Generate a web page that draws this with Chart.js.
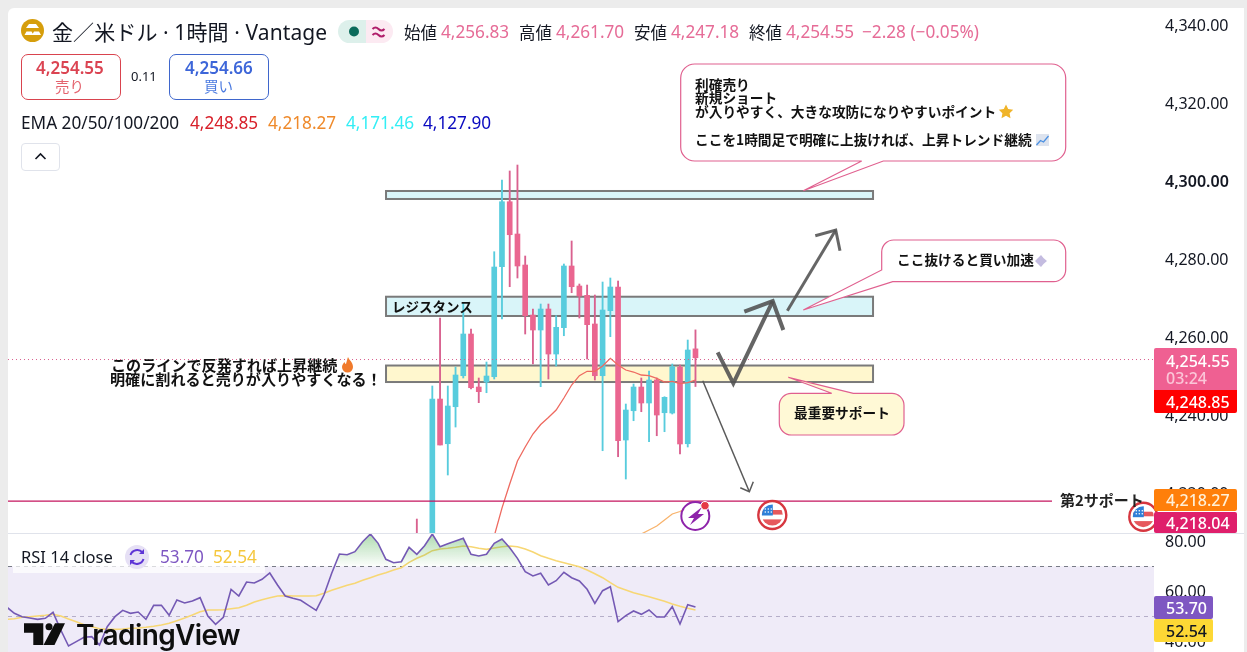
<!DOCTYPE html>
<html lang="ja">
<head>
<meta charset="utf-8">
<title>金／米ドル 1時間</title>
<script src="https://cdn.jsdelivr.net/npm/chart.js@4"></script>
<style>
html,body{margin:0;padding:0;background:#ECECEC;overflow:hidden}
#stage{position:relative;width:1247px;height:652px;overflow:hidden;font-family:"Noto Sans","Noto Sans CJK JP",sans-serif;color:#131722}
#panel{position:absolute;left:8px;top:8px;width:1236px;height:644px;background:#fff;border-top-left-radius:6px}
canvas{position:absolute;left:0}
#priceCanvas{top:0}
#rsiCanvas{top:534px}
#divider{position:absolute;left:8px;top:533px;width:1236px;height:1px;background:#E0E3EB}
.t{position:absolute;white-space:nowrap;transform:translateY(-50%);line-height:1}
.j{font-family:"Noto Sans CJK JP",sans-serif}
.b{font-family:"Noto Sans CJK JP",sans-serif;font-weight:700;font-size:13.7px;color:#111}
.p{color:#E66C97}
.box{position:absolute;box-sizing:border-box;border-radius:7px;background:#fff;width:100px;height:46px;top:54px;text-align:center}
.tag{position:absolute;left:1154px;width:83px;box-sizing:border-box;padding-left:12px;color:#fff;border-radius:2px;font-size:16px}
.tag span{position:absolute;left:12px;top:50%;transform:translateY(-50%);line-height:1}
svg{position:absolute;left:0;top:0}
</style>
</head>
<body>
<div id="stage">
  <div id="panel"></div>
  <canvas id="priceCanvas" width="1247" height="533"></canvas>
  <div id="divider"></div>
  <canvas id="rsiCanvas" width="1247" height="118"></canvas>

  <svg width="1247" height="652" viewBox="0 0 1247 652">
    <defs>
      <clipPath id="flagClip"><circle cx="0" cy="0" r="10.5"/></clipPath>
      <g id="usFlag">
        <circle r="14" fill="#fff" stroke="#D6363F" stroke-width="2.4"/>
        <g clip-path="url(#flagClip)">
          <rect x="-11" y="-11" width="22" height="22" fill="#fff"/>
          <rect x="-11" y="-5" width="22" height="4.6" fill="#E6585D"/>
          <rect x="-11" y="4.4" width="22" height="6.6" fill="#E6585D"/>
          <rect x="-11" y="-11" width="11.5" height="11.5" fill="#2F80D8"/>
          <g fill="#fff"><circle cx="-7" cy="-6" r=".8"/><circle cx="-4" cy="-6" r=".8"/><circle cx="-1" cy="-6" r=".8"/><circle cx="-7" cy="-3" r=".8"/><circle cx="-4" cy="-3" r=".8"/><circle cx="-1" cy="-3" r=".8"/></g>
        </g>
      </g>
    </defs>
    <!-- callouts -->
    <path d="M694.7 64H1051.7a14 14 0 0 1 14 14V147a14 14 0 0 1 -14 14H883.3L803.3 190.7L861.7 161H694.7a14 14 0 0 1 -14 -14V78a14 14 0 0 1 14 -14Z" fill="#fff" stroke="#E0608F" stroke-width="1.2"/>
    <path d="M893.7 240H1053.7a12 12 0 0 1 12 12V269.7a12 12 0 0 1 -12 12H892.7L803.3 310L881.7 270V252a12 12 0 0 1 12 -12Z" fill="#fff" stroke="#E0608F" stroke-width="1.2"/>
    <path d="M791.3 393.3H831.7L788.3 377.3L853.3 393.3H892a12 12 0 0 1 12 12V423a12 12 0 0 1 -12 12H791.3a12 12 0 0 1 -12 -12V405.3a12 12 0 0 1 12 -12Z" fill="#FFF9D6" stroke="#E0608F" stroke-width="1.2"/>
    <!-- emoji stand-ins -->
    <path d="M1006 104.5l2.2 4.5 5 .7-3.6 3.5.9 5-4.5-2.4-4.5 2.4.9-5-3.6-3.5 5-.7z" fill="#F0B429"/>
    <rect x="1036" y="134" width="13" height="12" fill="#DDE3EE"/>
    <path d="M1036.5 145l4-4.500 3 1.500 5-6" fill="none" stroke="#4A90E2" stroke-width="1.300"/>
    <path d="M1041 255l2.500 3 3.500 3-3.500 3-2.500 3-3-3-3-3 3-3z" fill="#C4BCE0"/>
    <path d="M348 357c1 3 5 5 5 10a5.500 5.500 0 0 1-11 0c0-2.500 1.500-3.500 2.500-5 .5 1.500 1 2 1.500 2 .5-2 1-4 2-7z" fill="#F07A2B"/>
    <!-- event icons -->
    <circle cx="695.300" cy="516" r="14" fill="#fff" stroke="#8E24AA" stroke-width="2"/>
    <path d="M702 507l-14 11h6l-4 7 14-11h-6z" fill="#8E24AA"/>
    <circle cx="705" cy="505.700" r="4.200" fill="#E53945" stroke="#fff" stroke-width="1"/>
    <use href="#usFlag" x="772.300" y="515"/>
    <use href="#usFlag" x="1143.300" y="516.700"/>
    <!-- legend glyphs -->
    <circle cx="32.500" cy="30.500" r="11.500" fill="#D69E0C"/>
    <path d="M26 28l3-4h7l3 4zM24.500 35l2-3.500h5l2 3.500zM32 35l2-3.500h5l2 3.500z" fill="#fff"/>
    <rect x="338" y="20" width="28" height="23" rx="11.500" fill="#DDF0EB"/><rect x="352" y="20" width="14" height="23" fill="#DDF0EB"/>
    <rect x="366" y="20" width="27" height="23" rx="11.500" fill="#FCEAF2"/><rect x="366" y="20" width="13" height="23" fill="#FCEAF2"/>
    <circle cx="354" cy="31.500" r="5" fill="#0B6B5B"/>
    <path d="M372.500 29c2-2 4-2 6 0s4 2 6 0M372.500 35c2-2 4-2 6 0s4 2 6 0" fill="none" stroke="#B01E6B" stroke-width="2"/>
    <rect x="21.500" y="143.500" width="38" height="27" rx="3.500" fill="#fff" stroke="#E0E3EB"/>
    <path d="M35.500 159l5-5 5 5" fill="none" stroke="#131722" stroke-width="1.600"/>
  </svg>

  <!-- header legend -->
  <div class="t" style="left:52px;top:32px;font-size:21px;letter-spacing:.1px">金／米ドル · 1時間 · Vantage</div>
  <div class="t j" style="left:404px;top:32px;font-size:16.500px">始値</div><div class="t p" style="left:441px;top:32px;font-size:17.200px">4,256.83</div>
  <div class="t j" style="left:519px;top:32px;font-size:16.500px">高値</div><div class="t p" style="left:556px;top:32px;font-size:17.200px">4,261.70</div>
  <div class="t j" style="left:634px;top:32px;font-size:16.500px">安値</div><div class="t p" style="left:671px;top:32px;font-size:17.200px">4,247.18</div>
  <div class="t j" style="left:749px;top:32px;font-size:16.500px">終値</div><div class="t p" style="left:786px;top:32px;font-size:17.200px">4,254.55</div>
  <div class="t p" style="left:862px;top:32px;font-size:17.200px">−2.28 (−0.05%)</div>

  <div class="box" style="left:21px;border:1px solid #D9434E"></div>
  <div class="t" style="left:36px;top:66.500px;font-size:17px;font-weight:600;color:#DB4452">4,254.55</div>
  <div class="t j" style="left:55px;top:86px;font-size:14.500px;color:#E4636E">売り</div>
  <div class="t" style="left:131px;top:76px;font-size:13px">0.11</div>
  <div class="box" style="left:169px;border:1px solid #3F66CC"></div>
  <div class="t" style="left:185px;top:66.500px;font-size:17px;font-weight:600;color:#3D66D9">4,254.66</div>
  <div class="t j" style="left:204px;top:86px;font-size:14.500px;color:#4C7BE0">買い</div>

  <div class="t" style="left:21px;top:123px;font-size:17.200px">EMA 20/50/100/200</div>
  <div class="t" style="left:190px;top:123px;font-size:17.200px;color:#D8202A">4,248.85</div>
  <div class="t" style="left:268px;top:123px;font-size:17.200px;color:#EF8A2B">4,218.27</div>
  <div class="t" style="left:346px;top:123px;font-size:17.200px;color:#33EEF5">4,171.46</div>
  <div class="t" style="left:423px;top:123px;font-size:17.200px;color:#0A0AC0">4,127.90</div>

  <!-- drawing labels -->
  <div class="t b" style="left:695px;top:85px">利確売り</div>
  <div class="t b" style="left:695px;top:98px">新規ショート</div>
  <div class="t b" style="left:695px;top:111.500px">が入りやすく、大きな攻防になりやすいポイント</div>
  <div class="t b" style="left:695px;top:140px">ここを1時間足で明確に上抜ければ、上昇トレンド継続</div>
  <div class="t b" style="left:897px;top:260px">ここ抜けると買い加速</div>
  <div class="t b" style="left:794px;top:413px">最重要サポート</div>
  <div class="t b" style="left:392px;top:307px;font-size:13.500px">レジスタンス</div>
  <div class="t b" style="left:111px;top:364.500px;font-size:15.100px">このラインで反発すれば上昇継続</div>
  <div class="t b" style="left:110px;top:379px;font-size:15.100px">明確に割れると売りが入りやすくなる！</div>
  <div class="t b" style="left:1060px;top:499px;font-size:15px;color:#222">第2サポート</div>

  <!-- price tags -->
  <div class="tag" style="top:348px;height:42px;background:#EF6092;border-radius:2px 2px 0 0">
    <span style="top:13px;font-weight:500">4,254.55</span>
    <span style="top:30px;color:#FBC6D8;font-weight:500">03:24</span>
  </div>
  <div class="tag" style="top:390px;height:23px;background:#FF0000;border-radius:0 0 2px 2px"><span style="font-weight:500">4,248.85</span></div>
  <div class="tag" style="top:489px;height:22px;background:#FF7F0A"><span style="color:#FFF0D8;font-weight:500">4,218.27</span></div>
  <div class="tag" style="top:512px;height:21px;background:#DF1F6B"><span style="font-weight:500">4,218.04</span></div>
  <div class="tag" style="top:596px;height:23px;width:59px;background:#7E57C2"><span style="left:12px;font-weight:500">53.70</span></div>
  <div class="tag" style="top:619px;height:23px;width:59px;background:#FDD835;color:#131722"><span style="left:12px;font-weight:500">52.54</span></div>

  <!-- RSI legend -->
  <div style="position:absolute;left:13px;top:545px;width:252px;height:28px;background:rgba(255,255,255,.72)"></div>
  <div class="t" style="left:21px;top:557px;font-size:16.500px">RSI 14 close</div>
  <svg width="1247" height="652" viewBox="0 0 1247 652" style="pointer-events:none">
    <circle cx="137" cy="557" r="12" fill="#E6E0F5"/>
    <path d="M130.500 555a7 7 0 0 1 12-2.500M143.500 559a7 7 0 0 1-12 2.500" fill="none" stroke="#5E35D6" stroke-width="2"/>
    <path d="M144 549v5h-5zM130 565v-5h5z" fill="#5E35D6"/>
    <g fill="#0E0E0E">
      <path d="M24 623.300H43.300V645H33.300V632.700H24Z"/>
      <circle cx="49" cy="626.800" r="3.500"/>
      <path d="M55 623.300H65L54.500 645H43.500Z"/>
    </g>
  </svg>
  <div class="t" style="left:160px;top:557px;font-size:17.200px;color:#7E57C2">53.70</div>
  <div class="t" style="left:213px;top:557px;font-size:17.200px;color:#F5C73D">52.54</div>
  <div class="t" style="left:76px;top:635px;font-family:Inter,sans-serif;font-weight:600;font-size:28px;letter-spacing:-.6px;color:#0E0E0E">TradingView</div>
</div>

<script>
// bar numbering: 0 is the tall bullish bar; numbers run left to right
const candleIndex = [-2,-1,0,1,2,3,4,5,6,7,8,9,10,11,12,13,14,15,16,17,18,19,20,21,22,23,24,25,26,27,28,29,30,31,32,33,34];
const opens  = [4205,4196,4200,4243.97,4232.51,4242.0,4249.95,4260.64,4247.05,4248.33,4249.69,4277.9,4294.56,4286.28,4278.33,4265.51,4261.67,4267.05,4255.51,4262.26,4278.08,4272.95,4270.56,4263.21,4249.95,4266.62,4272.69,4233.46,4240.97,4247.05,4242.95,4248.85,4240.46,4240.38,4252.18,4232.51,4256.83];
const highs  = [4213.2,4203,4247.31,4264.74,4247.31,4252.18,4268.6,4261.92,4249.36,4253.46,4281.74,4300.13,4302.44,4303.97,4280.64,4267.05,4268.33,4268.33,4265.33,4278.59,4284.49,4273.46,4273.2,4270.64,4273.97,4275.0,4274.23,4242.69,4247.82,4249.36,4251.15,4249.36,4244.56,4252.95,4252.69,4259.1,4261.7];
const lows   = [4192,4190,4192,4232.18,4224.49,4236.79,4249.36,4246.54,4243.03,4245.59,4249.1,4264.49,4272.77,4275.0,4260.64,4252.95,4247.13,4249.1,4252.44,4260.2,4271.23,4264.74,4254.23,4248.85,4230.72,4259.95,4229.18,4223.46,4238.41,4240.72,4233.03,4234.56,4235.59,4240.13,4229.87,4231.67,4247.18];
const closes = [4196,4200,4243.97,4232.18,4242.18,4250.13,4260.64,4246.87,4245.85,4249.87,4277.82,4294.56,4286.1,4278.08,4265.33,4261.67,4267.05,4255.51,4262.36,4278.08,4272.77,4270.38,4263.03,4249.95,4266.79,4272.69,4233.28,4241.15,4247.05,4242.95,4248.85,4239.87,4244.41,4252.26,4232.44,4256.54,4254.55];

const ema20Index = [7,8,9,10,11,12,13,14,15,16,17,18,19,20,21,22,23,24,25,26,27,28,29,30,31,32,33,34];
const ema20 = [4200.1,4208.85,4216.0,4222.18,4228.08,4231.67,4235.0,4237.44,4239.23,4241.15,4244.23,4247.56,4249.95,4251.08,4251.08,4252.44,4254.41,4252.69,4251.41,4250.9,4250.13,4249.95,4249.28,4248.33,4248.51,4247.9,4248.15,4248.85];
const ema50Index = [27,28,29,30,31,32,33,34];
const ema50 = [4209.36,4210.38,4211.41,4212.95,4214.49,4215.13,4216.28,4217.0];

const lastPriceLevel = 4254.1;
const secondSupportLevel = 4217.78;
const secondSupportEnd = 80.06;
const priceTicks = [4340,4320,4300,4280,4260,4240,4220];
const rsiTicks = [80,60,40];

// price zones: [low, high]
const zoneFirstBar = -5.98, zoneLastBar = 56.94;
const takeProfitZone = [4295.26,4297.31];
const resistanceZone = [4265.26,4270.2];
const supportZone = [4248.33,4252.56];

// hand-drawn arrows as [bar, price]
const arrowBig = [[36.87,4255.95],[38.89,4248.0],[43.98,4269.1]];
const arrowBigHead = [[40.31,4266.36],[43.98,4269.1],[45.35,4261.67]];
const arrowUp = [[45.87,4266.6],[52.12,4287.3]];
const arrowUpHead = [[49.48,4285.85],[52.12,4287.3],[52.67,4282.0]];
const arrowDown = [[34.94,4248.67],[40.96,4220.2]];
const arrowDownHead = [[39.79,4221.23],[40.96,4220.2],[41.47,4222.77]];

const rsiIndex = [-55,-54,-53,-52,-51,-50,-49,-48,-47,-46,-45,-44,-43,-42,-41,-40,-39,-38,-37,-36,-35,-34,-33,-32,-31,-30,-29,-28,-27,-26,-25,-24,-23,-22,-21,-20,-19,-18,-17,-16,-15,-14,-13,-12,-11,-10,-9,-8,-7,-6,-5,-4,-3,-2,-1,0,1,2,3,4,5,6,7,8,9,10,11,12,13,14,15,16,17,18,19,20,21,22,23,24,25,26,27,28,29,30,31,32,33,34];
const rsiValues = [53.72,51.19,49.85,49.32,48.79,49.19,51.59,44.52,38.12,39.85,41.59,41.85,38.52,45.85,49.85,52.39,51.19,51.72,48.79,54.39,54.39,50.39,56.52,55.32,56.12,57.45,50.12,46.79,49.59,60.79,58.12,63.72,63.32,64.79,67.32,62.52,58.12,57.19,56.39,54.39,52.39,58.52,67.19,74.92,74.65,75.85,79.85,82.92,79.19,72.79,71.45,71.85,77.59,74.79,78.25,82.92,77.85,79.05,80.12,81.19,74.79,74.12,74.79,79.19,80.92,77.45,73.19,67.85,66.12,67.19,62.52,64.25,67.59,65.45,64.12,60.79,55.19,60.25,61.85,47.85,50.25,52.12,50.79,52.52,49.72,49.72,53.85,46.92,54.65,53.70];
const rsiMa = [48.79,49.05,49.59,49.85,50.12,50.39,50.79,50.12,48.92,47.85,46.65,45.85,45.05,44.79,44.79,44.92,45.19,45.32,45.59,45.99,46.52,47.19,48.25,49.32,50.52,51.85,52.52,52.52,52.65,53.05,53.45,54.39,55.72,56.65,57.45,58.12,58.25,58.12,58.12,58.12,58.25,59.19,60.39,61.45,62.39,63.19,64.39,65.45,66.52,67.45,68.52,69.45,71.59,73.19,74.52,76.25,76.92,77.19,77.59,78.12,77.85,77.19,76.79,77.32,77.85,78.12,77.85,76.92,75.72,74.25,73.19,72.25,71.45,70.65,69.85,68.52,67.05,65.45,63.45,61.59,60.52,59.45,58.65,57.85,56.92,55.99,54.92,53.99,53.19,52.54];
const rsiUpperBand = 70, rsiMiddleBand = 50, rsiLowerBand = 30;

// ---- layout of the panes ----
const xMin = -54.82, xMax = 93.24;
const priceMax = 4346.28, priceMin = 4209.62;
const rsiMax = 82.92, rsiMin = 35.72;
const BULL = '#58CCDD', BEAR = '#EA6690', BEAR_WICK = '#D9618F';
const FONT = '"Noto Sans", sans-serif';

const pts = (xs, ys) => xs.map((x, k) => ({x, y: ys[k]}));
const isUp = k => closes[k] >= opens[k];
const wicks = candleIndex.map((x, k) => ({x, y: [lows[k], highs[k]]}));
const bodies = candleIndex.map((x, k) => ({x, y: [Math.min(opens[k], closes[k]), Math.max(opens[k], closes[k])]}));

function fixAxis(s){ s.width = 93; s.paddingTop = 0; s.paddingBottom = 0; s.paddingLeft = 0; s.paddingRight = 0; }

const zonesPlugin = {
  id: 'zones',
  beforeDatasetsDraw(chart){
    const {ctx, scales:{x, y}} = chart;
    const L = x.getPixelForValue(zoneFirstBar), R = x.getPixelForValue(zoneLastBar);
    const draw = (z, fill) => {
      const top = y.getPixelForValue(z[1]), bot = y.getPixelForValue(z[0]);
      ctx.save();
      ctx.fillStyle = fill; ctx.strokeStyle = '#7A7A7A'; ctx.lineWidth = 2;
      ctx.fillRect(L, top, R - L, bot - top);
      ctx.strokeRect(L, top, R - L, bot - top);
      ctx.restore();
    };
    draw(takeProfitZone, '#D9F5F9');
    draw(resistanceZone, '#D9F5F9');
    draw(supportZone, '#FFF7CE');
  },
  afterDatasetsDraw(chart){
    const {ctx, scales:{x, y}} = chart;
    const poly = (a, w, c) => {
      ctx.save();
      ctx.beginPath();
      a.forEach((p, k) => {
        const px = x.getPixelForValue(p[0]), py = y.getPixelForValue(p[1]);
        k ? ctx.lineTo(px, py) : ctx.moveTo(px, py);
      });
      ctx.lineWidth = w; ctx.strokeStyle = c; ctx.lineJoin = 'miter'; ctx.stroke();
      ctx.restore();
    };
    poly(arrowBig, 4, 'rgba(80,80,80,.88)');
    poly(arrowBigHead, 4, 'rgba(80,80,80,.88)');
    poly(arrowUp, 3, 'rgba(85,85,85,.9)');
    poly(arrowUpHead, 3, 'rgba(85,85,85,.9)');
    poly(arrowDown, 1.5, '#5A5A5A');
    poly(arrowDownHead, 1.5, '#5A5A5A');
  }
};

new Chart(document.getElementById('priceCanvas'), {
  type: 'bar',
  plugins: [zonesPlugin],
  data: {
    datasets: [
      {type:'bar', label:'wick', data:wicks, grouped:false, barThickness:1.2, order:5, borderWidth:0,
       backgroundColor:candleIndex.map((_, k) => isUp(k) ? BULL : BEAR_WICK)},
      {type:'bar', label:'body', data:bodies, grouped:false, barThickness:5, order:4, borderWidth:0,
       backgroundColor:candleIndex.map((_, k) => isUp(k) ? BULL : BEAR)},
      {type:'line', label:'EMA 20', data:pts(ema20Index, ema20), borderColor:'#EE6A60', borderWidth:1.3, pointRadius:0, tension:0, order:3},
      {type:'line', label:'EMA 50', data:pts(ema50Index, ema50), borderColor:'#F8B36C', borderWidth:1.3, pointRadius:0, tension:0, order:3},
      {type:'line', label:'last', data:[{x:xMin,y:lastPriceLevel},{x:xMax,y:lastPriceLevel}], borderColor:'#D9608F', borderWidth:1, borderDash:[1,3], pointRadius:0, order:2},
      {type:'line', label:'support 2', data:[{x:xMin,y:secondSupportLevel},{x:secondSupportEnd,y:secondSupportLevel}], borderColor:'#C4145E', borderWidth:1.3, pointRadius:0, order:2}
    ]
  },
  options: {
    responsive:false, animation:false, devicePixelRatio:1,
    layout:{padding:{left:8,right:0,top:0,bottom:0}},
    plugins:{legend:{display:false},tooltip:{enabled:false}},
    scales:{
      x:{type:'linear', min:xMin, max:xMax, display:false, offset:false, grid:{display:false}},
      y:{position:'right', min:priceMin, max:priceMax, afterFit:fixAxis,
         grid:{display:false, drawTicks:false}, border:{display:false},
         afterBuildTicks:s => { s.ticks = priceTicks.map(value => ({value})); },
         ticks:{padding:11, labelOffset:1.5, color:'#131722', autoSkip:false,
           font:c => ({family:FONT, size:16, weight:c.tick && c.tick.value === 4300 ? '600' : '400'}),
           callback:v => v.toLocaleString('en-US',{minimumFractionDigits:2,maximumFractionDigits:2})}}
    }
  }
});

const rsiCanvas = document.getElementById('rsiCanvas');
const greenFade = rsiCanvas.getContext('2d').createLinearGradient(0, 0, 0, 32);
greenFade.addColorStop(0, 'rgba(76,175,80,.45)');
greenFade.addColorStop(1, 'rgba(76,175,80,.02)');

const rsiBandPlugin = {
  id:'rsiBand',
  beforeDatasetsDraw(chart){
    const {ctx, chartArea:a, scales:{y}} = chart;
    const top = y.getPixelForValue(rsiUpperBand), bot = Math.min(y.getPixelForValue(rsiLowerBand), a.bottom);
    const mid = y.getPixelForValue(rsiMiddleBand);
    ctx.save();
    ctx.fillStyle = '#EFEBF8';
    ctx.fillRect(a.left, top, a.right - a.left, bot - top);
    const dash = (py, c) => {
      ctx.beginPath(); ctx.setLineDash([4,4]); ctx.lineWidth = 1; ctx.strokeStyle = c;
      ctx.moveTo(a.left, Math.round(py) + .5); ctx.lineTo(a.right, Math.round(py) + .5); ctx.stroke();
    };
    dash(top, '#787B86');
    dash(mid, '#B5AEC9');
    ctx.restore();
  }
};

new Chart(rsiCanvas, {
  type:'line',
  plugins:[rsiBandPlugin],
  data:{datasets:[
    {label:'RSI MA', data:pts(rsiIndex, rsiMa), borderColor:'#F7D774', borderWidth:1.6, pointRadius:0, tension:0, order:2},
    {label:'RSI', data:pts(rsiIndex, rsiValues), borderColor:'#7459B4', borderWidth:1.6, pointRadius:0, tension:0, order:1,
     fill:{target:{value:rsiUpperBand}, above:greenFade, below:'rgba(0,0,0,0)'}}
  ]},
  options:{
    responsive:false, animation:false, devicePixelRatio:1,
    layout:{padding:{left:8,right:0,top:0,bottom:0}},
    plugins:{legend:{display:false},tooltip:{enabled:false}},
    scales:{
      x:{type:'linear', min:xMin, max:xMax, display:false, offset:false, grid:{display:false}},
      y:{position:'right', min:rsiMin, max:rsiMax, afterFit:fixAxis,
         grid:{display:false, drawTicks:false}, border:{display:false},
         afterBuildTicks:s => { s.ticks = rsiTicks.map(value => ({value})); },
         ticks:{padding:11, labelOffset:1, color:'#131722', autoSkip:false, font:{family:FONT,size:16},
           callback:v => v.toFixed(2)}}
    }
  }
});
</script>
</body>
</html>
